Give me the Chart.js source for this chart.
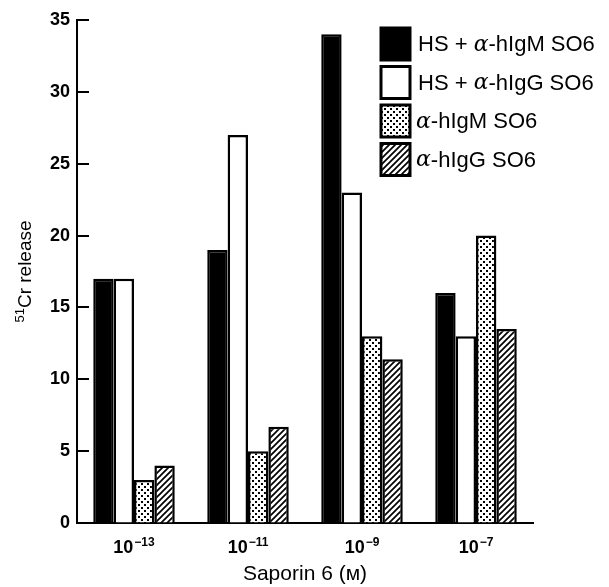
<!DOCTYPE html>
<html>
<head>
<meta charset="utf-8">
<script src="https://cdn.jsdelivr.net/npm/chart.js@4/dist/chart.umd.min.js"></script>
<style>
  html, body { margin: 0; padding: 0; background: #fff; }
  #wrap { width: 609px; height: 587px; position: relative; }
</style>
</head>
<body>
<div id="wrap"><canvas id="chart"></canvas></div>
<script>
// concentrations are 10^exp M
const exponents = ["−13", "−11", "−9", "−7"]
const categories = exponents.map((e) => "10^" + e)
const seriesNames = ["HS + α-hIgM SO6", "HS + α-hIgG SO6", "α-hIgM SO6", "α-hIgG SO6"]
const hsIgM = [17, 19, 34, 16]
const hsIgG = [17, 27, 23, 13]
const igM   = [3, 5, 13, 20]
const igG   = [4, 6.7, 11.4, 13.5]
const yMin = 0
const yMax = 35
const yStep = 5

const FONT = "'Liberation Sans', Arial, Helvetica, sans-serif"
const canvas = document.getElementById("chart")
const ctx = canvas.getContext("2d")

const makeTile = (draw) => {
  const t = document.createElement("canvas")
  t.width = 6
  t.height = 6
  const c = t.getContext("2d")
  c.fillStyle = "#fff"
  c.fillRect(0, 0, 6, 6)
  draw(c)
  return ctx.createPattern(t, "repeat")
}

const dots = makeTile((c) => {
  c.fillStyle = "#000"
  c.fillRect(0, 0, 2, 2)
  c.fillRect(3, 3, 2, 2)
})

const hatch = makeTile((c) => {
  c.strokeStyle = "#000"
  c.lineWidth = 1.7
  c.beginPath()
  c.moveTo(0, 6); c.lineTo(6, 0)
  c.moveTo(-1, 1); c.lineTo(1, -1)
  c.moveTo(5, 7); c.lineTo(7, 5)
  c.stroke()
})

const fills = ["#000", "#fff", dots, hatch]
const values = [hsIgM, hsIgG, igM, igG]

// tick marks pointing into the plot, like the original figure
const innerTicks = {
  id: "innerTicks",
  afterDraw(chart) {
    const y = chart.scales.y
    const left = chart.chartArea.left
    const c = chart.ctx
    c.save()
    c.strokeStyle = "#000"
    c.lineWidth = 2
    y.ticks.forEach((t) => {
      const py = Math.round(y.getPixelForValue(t.value))
      c.beginPath()
      c.moveTo(left, py)
      c.lineTo(left + 12, py)
      c.stroke()
    })
    c.restore()
  }
}

// "10" with a raised exponent under each group, and the 51Cr axis title
const sciLabels = {
  id: "sciLabels",
  afterDraw(chart) {
    const x = chart.scales.x
    const c = chart.ctx
    c.save()
    c.fillStyle = "#000"
    c.textBaseline = "alphabetic"
    categories.forEach((lab, i) => {
      const [base, exp] = lab.split("^")
      const cx = x.getPixelForValue(i)
      c.font = "bold 18px " + FONT
      const wb = c.measureText(base).width
      c.font = "bold 12px " + FONT
      const we = c.measureText(exp).width
      const sx = cx - (wb + we + 1) / 2
      c.font = "bold 18px " + FONT
      c.fillText(base, sx, 553)
      c.font = "bold 12px " + FONT
      c.fillText(exp, sx + wb + 1, 546)
    })

    const area = chart.chartArea
    c.translate(31, (area.top + area.bottom) / 2)
    c.rotate(-Math.PI / 2)
    c.font = "13px " + FONT
    const w1 = c.measureText("51").width
    c.font = "19px " + FONT
    const w2 = c.measureText("Cr release").width
    const sx = -(w1 + w2) / 2
    c.font = "13px " + FONT
    c.fillText("51", sx, -7)
    c.font = "19px " + FONT
    c.fillText("Cr release", sx + w1, 0)
    c.restore()
  }
}

// legend box sits inside the plot, top right
const boxLegend = {
  id: "boxLegend",
  afterDraw(chart) {
    const c = chart.ctx
    c.save()
    chart.data.datasets.forEach((ds, i) => {
      const bx = 381, by = 28 + i * 38.5, bw = 29, bh = 32
      c.fillStyle = ds.backgroundColor
      c.fillRect(bx, by, bw, bh)
      c.strokeStyle = "#000"
      c.lineWidth = 3
      c.strokeRect(bx, by, bw, bh)

      const parts = ds.label.split("α")
      let tx = i < 2 ? 418 : 416
      const ty = by + bh / 2 + 1
      c.fillStyle = "#000"
      c.textBaseline = "middle"
      c.font = "22px " + FONT
      c.fillText(parts[0], tx, ty)
      tx += c.measureText(parts[0]).width
      c.font = "italic 22px 'DejaVu Serif', serif"
      c.fillText("α", tx, ty)
      tx += c.measureText("α").width
      c.font = "22px " + FONT
      c.fillText(parts[1], tx, ty)
    })
    c.restore()
  }
}

new Chart(ctx, {
  type: "bar",
  data: {
    labels: categories,
    datasets: seriesNames.map((name, i) => ({
      label: name,
      data: values[i],
      backgroundColor: fills[i],
      borderColor: "#000",
      borderWidth: 2.5,
      categoryPercentage: 0.715,
      barPercentage: 1.0
    }))
  },
  options: {
    responsive: true,
    maintainAspectRatio: false,
    animation: false,
    layout: { padding: { left: 0, top: 20, right: 76, bottom: 0 } },
    plugins: {
      legend: { display: false },
      tooltip: { enabled: false }
    },
    scales: {
      x: {
        grid: { display: false },
        border: { display: true, color: "#000", width: 2 },
        ticks: { display: false },
        title: {
          display: true,
          text: "Saporin 6 (ᴍ)",
          color: "#000",
          font: { family: FONT, size: 21 },
          padding: { top: 0, bottom: 0 }
        },
        afterFit: (scale) => { scale.height = 64 }
      },
      y: {
        min: yMin,
        max: yMax,
        grid: { drawOnChartArea: false, drawTicks: false },
        border: { display: true, color: "#000", width: 2 },
        ticks: { stepSize: yStep, color: "#000", font: { family: FONT, size: 18, weight: "bold" }, padding: 7 },
        title: { display: false },
        afterFit: (scale) => { scale.width = 77 }
      }
    }
  },
  plugins: [innerTicks, sciLabels, boxLegend]
})
</script>
</body>
</html>
